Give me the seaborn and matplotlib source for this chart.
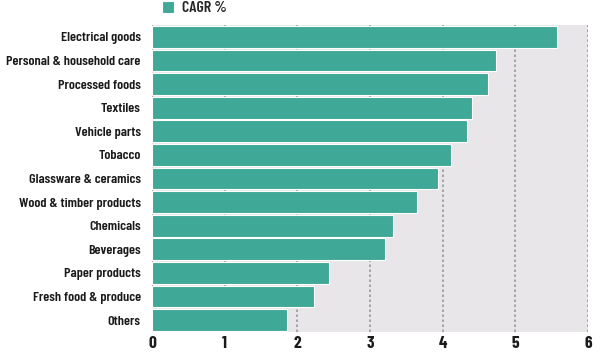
import matplotlib
matplotlib.use("Agg")
import matplotlib.pyplot as plt
import seaborn as sns
import pandas as pd

categories = [
    "Electrical goods",
    "Personal & household care",
    "Processed foods",
    "Textiles",
    "Vehicle parts",
    "Tobacco",
    "Glassware & ceramics",
    "Wood & timber products",
    "Chemicals",
    "Beverages",
    "Paper products",
    "Fresh food & produce",
    "Others",
]
cagr = [5.57, 4.74, 4.63, 4.40, 4.34, 4.11, 3.93, 3.65, 3.31, 3.20, 2.44, 2.23, 1.86]
x_ticks = [0, 1, 2, 3, 4, 5, 6]

df = pd.DataFrame({"Category": categories, "CAGR %": cagr})

sns.set_style("white")
plt.rcParams["font.family"] = ["Barlow Condensed", "Roboto Condensed", "DejaVu Sans"]
plt.rcParams["font.stretch"] = "condensed"
plt.rcParams["font.weight"] = 600

fig = plt.figure(figsize=(6, 3.52), dpi=100)
ax = fig.add_axes([0.2533, 0.0568, 0.7267, 0.8722])
ax.set_facecolor("#e8e6e8")

sns.barplot(data=df, x="CAGR %", y="Category", color="#3fa896", width=0.92,
            saturation=1, edgecolor="white", linewidth=0.8, label="CAGR %", ax=ax)

ax.set_xlim(0, 6)
ax.set_ylim(12.5, -0.5)
ax.set_xticks(x_ticks)
ax.set_xticklabels([str(t) for t in x_ticks], fontsize=12.5, fontweight=700, color="#1a1a1a")
ax.tick_params(axis="y", labelsize=10.2, length=0, pad=8, labelcolor="#1a1a1a")
ax.tick_params(axis="x", length=0, pad=3)
for lbl in ax.get_yticklabels():
    lbl.set_fontweight(600)
ax.set_xlabel("")
ax.set_ylabel("")
ax.set_axisbelow(True)
ax.xaxis.grid(True, linestyle=(0, (1.5, 1.5)), color="#9a9a9a", linewidth=1.2)
ax.yaxis.grid(False)
for s in ax.spines.values():
    s.set_visible(False)

ax.legend(loc="lower left", bbox_to_anchor=(0.0, 1.0), frameon=False,
          handlelength=0.8, handleheight=0.8, handletextpad=0.5,
          borderaxespad=0.2, prop={"weight": 600, "size": 11.5})

fig.savefig("out.png", dpi=100)
